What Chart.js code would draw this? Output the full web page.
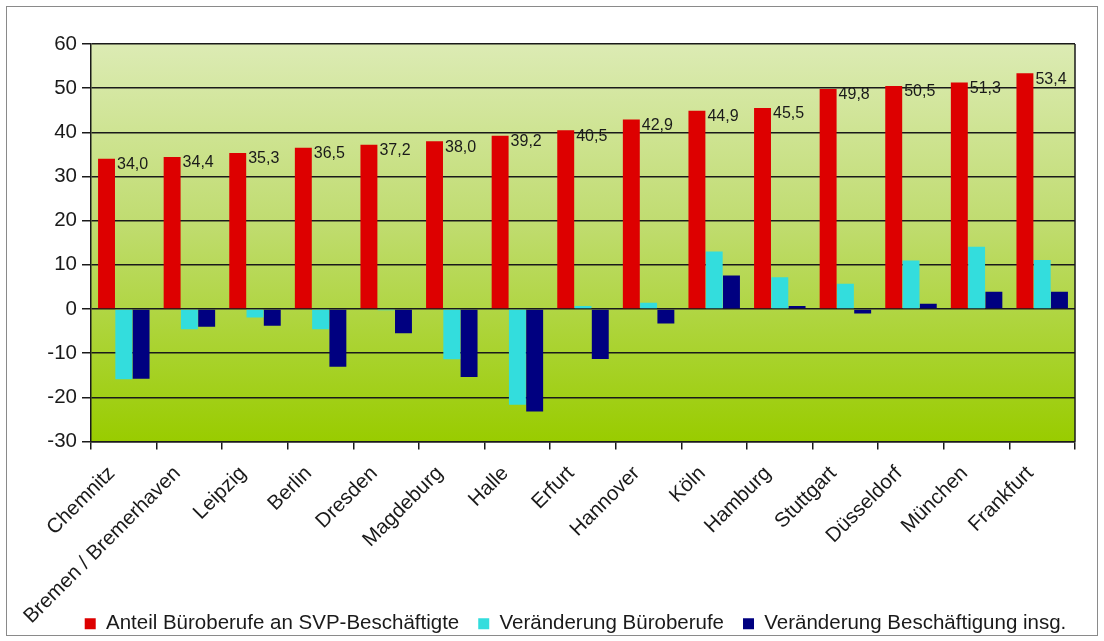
<!DOCTYPE html>
<html>
<head>
<meta charset="utf-8">
<script src="https://cdn.jsdelivr.net/npm/chart.js@4/dist/chart.umd.min.js"></script>
<style>
  html,body{margin:0;padding:0;background:#fff;}
  #wrap{width:1104px;height:641px;}
</style>
</head>
<body>
<div id="wrap"><canvas id="chart" width="1104" height="641"></canvas></div>
<script>
// categories and series
const cities=['Chemnitz','Bremen / Bremerhaven','Leipzig','Berlin','Dresden','Magdeburg','Halle','Erfurt','Hannover','Köln','Hamburg','Stuttgart','Düsseldorf','München','Frankfurt'];
const anteil=[34.0,34.4,35.3,36.5,37.2,38.0,39.2,40.5,42.9,44.9,45.5,49.8,50.5,51.3,53.4];
const verBuero=[-15.9,-4.6,-1.9,-4.6,-0.3,-11.4,-21.7,0.7,1.4,13.0,7.2,5.7,11.0,14.1,11.1];
const verGesamt=[-15.8,-4.0,-3.8,-13.1,-5.5,-15.4,-23.2,-11.3,-3.3,7.6,0.7,-1.0,1.2,3.9,3.9];
const seriesNames=['Anteil Büroberufe an SVP-Beschäftigte','Veränderung Büroberufe','Veränderung Beschäftigung insg.'];
const yMin=-30, yMax=60, yStep=10;

const FONT="'Liberation Sans', Arial, sans-serif";
const fmt=v=>v.toFixed(1).replace('.',',');

// background: white page, grey frame, green gradient in plot area
const bgPlugin={
  id:'bg',
  afterLayout(chart){
    // let the long rotated labels run down past the axis box, like the original
    chart.scales.x.bottom=chart.height;
    // legend sits a bit right of centre and slightly lower in the original
    const l=chart.legend;
    l.left+=34; l.right+=34; l.top+=3; l.bottom+=3;
  },
  beforeDraw(chart){
    const {ctx,chartArea:a,width,height}=chart;
    ctx.save();
    ctx.fillStyle='#fff'; ctx.fillRect(0,0,width,height);
    ctx.strokeStyle='#8a8a8a'; ctx.lineWidth=1;
    ctx.strokeRect(6.5,6.5,width-13,height-12);
    const g=ctx.createLinearGradient(0,a.top,0,a.bottom);
    g.addColorStop(0,'#dcebb4');
    g.addColorStop(0.45,'#c0dc70');
    g.addColorStop(1,'#99cc00');
    ctx.fillStyle=g; ctx.fillRect(a.left,a.top,a.right-a.left,a.bottom-a.top);
    ctx.restore();
  },
  beforeDatasetsDraw(chart){
    const {ctx,chartArea:a}=chart;
    ctx.save();
    ctx.strokeStyle='#1a1a1a'; ctx.lineWidth=1.5;
    ctx.beginPath(); ctx.moveTo(a.right,a.top); ctx.lineTo(a.right,a.bottom); ctx.stroke();
    ctx.restore();
  }
};

// value labels next to the red bars
const valuePlugin={
  id:'values',
  afterDatasetsDraw(chart){
    const {ctx}=chart;
    const meta=chart.getDatasetMeta(0);
    ctx.save();
    ctx.font='16px '+FONT; ctx.fillStyle='#1a1a1a';
    ctx.textAlign='left'; ctx.textBaseline='middle';
    meta.data.forEach((bar,i)=>{
      ctx.fillText(fmt(anteil[i]),bar.x+bar.width/2+2,bar.y+6);
    });
    ctx.restore();
  }
};

new Chart(document.getElementById('chart'),{
  type:'bar',
  data:{labels:cities,datasets:[
    {label:seriesNames[0],data:anteil,backgroundColor:'#dd0000'},
    {label:seriesNames[1],data:verBuero,backgroundColor:'#33dddd'},
    {label:seriesNames[2],data:verGesamt,backgroundColor:'#000080'}
  ]},
  options:{
    responsive:false,animation:false,
    datasets:{bar:{categoryPercentage:0.79,barPercentage:0.98,borderWidth:0}},
    layout:{padding:{top:44,left:8,right:29,bottom:0}},
    plugins:{
      legend:{position:'bottom',labels:{font:{family:FONT,size:20.5},color:'#1a1a1a',boxWidth:11,boxHeight:11,padding:19}},
      tooltip:{enabled:false}
    },
    scales:{
      x:{
        grid:{offset:true,drawOnChartArea:false,color:'#1a1a1a',lineWidth:1.5,tickLength:8},
        border:{color:'#1a1a1a',width:1.5},
        ticks:{font:{family:FONT,size:20.5},color:'#1a1a1a',maxRotation:45,minRotation:45,autoSkip:false,padding:12,labelOffset:-12},
        afterFit(s){s.height=150;}
      },
      y:{
        min:yMin,max:yMax,
        grid:{color:'#1a1a1a',lineWidth:1.5,tickLength:9},
        border:{color:'#1a1a1a',width:1.5},
        ticks:{stepSize:yStep,font:{family:FONT,size:20.5},color:'#1a1a1a',padding:5},
        afterFit(s){s.width=83;}
      }
    }
  },
  plugins:[bgPlugin,valuePlugin]
});
</script>
</body>
</html>
